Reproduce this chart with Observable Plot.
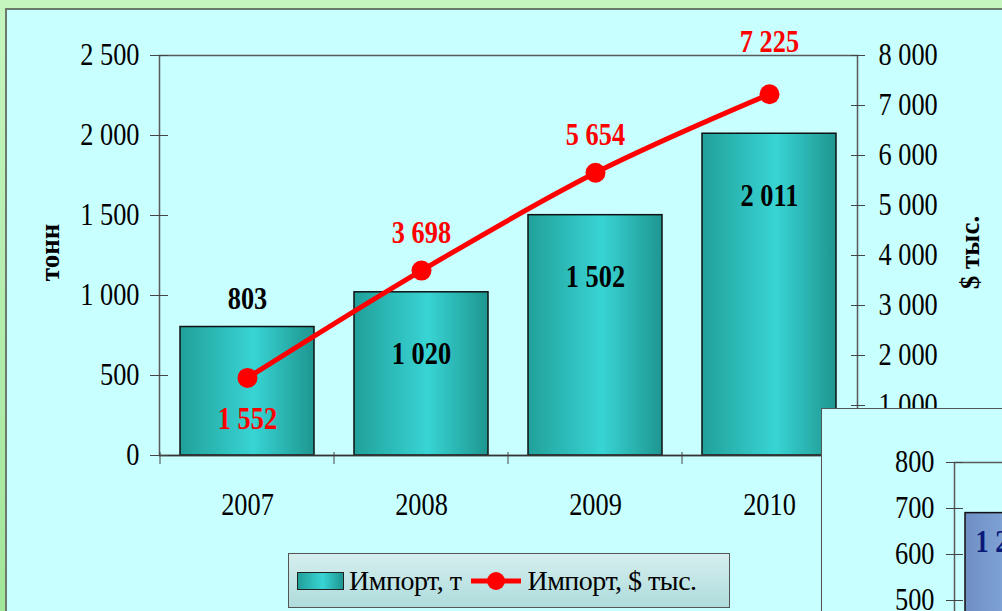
<!DOCTYPE html>
<html>
<head>
<meta charset="utf-8">
<script src="https://cdn.jsdelivr.net/npm/d3@7"></script>
<script src="https://cdn.jsdelivr.net/npm/@observablehq/plot@0.6"></script>
<style>
  html, body { margin:0; padding:0; }
  body { width:1002px; height:611px; overflow:hidden; position:relative;
         background: linear-gradient(to bottom, #c6f6c0, #a2e69a); font-family:"Liberation Serif", serif; }
  #panel { position:absolute; left:5px; top:8px; width:1100px; height:700px; background:#c8ffff;
           border-left:2px solid #6b7a6b; border-top:2px solid #6b7a6b; box-sizing:border-box; }
  #main { position:absolute; left:0; top:0; }
  .ytitle { position:absolute; font-weight:bold; font-size:27px; white-space:nowrap; transform-origin:center; }
  #legend { position:absolute; left:288px; top:553px; width:442px; height:55px; box-sizing:border-box;
            border:1.5px solid #555; background: linear-gradient(to bottom, #d6eeee, #aedcdc);
            display:flex; align-items:center; font-size:28px; color:#000; padding-left:8px; letter-spacing:-0.5px; }
  #legend .sw { width:45px; height:16px; border:1.5px solid #222; margin-right:5px;
                background: linear-gradient(to right, #22a09a, #38d4d4 55%, #1e9690); }
  #mini { position:absolute; left:821px; top:408px; width:400px; height:500px; background:#c8ffff;
          border-left:1.5px solid #555; border-top:1.5px solid #555; }
  #mini svg { position:absolute; left:0; top:0; }
</style>
</head>
<body>
<div id="panel"></div>
<div id="main"></div>
<div class="ytitle" id="tl">тонн</div>
<div class="ytitle" id="tr">$ тыс.</div>
<div id="legend">
  <div class="sw"></div><span>Импорт, т</span>
  <svg width="54" height="24" style="margin:0 4px 0 8px"><line x1="2" y1="12" x2="52" y2="12" stroke="#ff0000" stroke-width="5"/><circle cx="27" cy="12" r="9" fill="#ff0000"/></svg>
  <span>Импорт, $ тыс.</span>
</div>
<div id="mini"></div>
<script>
// ---- data ----
const years = ["2007", "2008", "2009", "2010"];
const importTonnes = [803, 1020, 1502, 2011];
const importUsdK = [1552, 3698, 5654, 7225];
const tonneTicks = [0, 500, 1000, 1500, 2000, 2500];
const usdTicks = [0, 1000, 2000, 3000, 4000, 5000, 6000, 7000, 8000];
// second (partially visible) chart
const miniCats = ["2007"];
const miniValues = [690];
const miniLabels = ["1 2"];
const miniTicks = [0, 100, 200, 300, 400, 500, 600, 700, 800];

const fmt = d => d3.format(",")(d).replace(/,/g, "\u00a0");
const tMax = 2500, uMax = 8000, k = tMax / uMax;
const toT = v => v * k;
const idx = years.map((_, i) => i);
const FS = 31;
const last = years.length - 1;

const defs = () => {
  const g = d3.create("svg:defs");
  const lg = g.append("linearGradient").attr("id", "barGrad").attr("x1", 0).attr("x2", 1).attr("y1", 0).attr("y2", 0);
  lg.append("stop").attr("offset", "0%").attr("stop-color", "#21a09a");
  lg.append("stop").attr("offset", "55%").attr("stop-color", "#38d4d4");
  lg.append("stop").attr("offset", "100%").attr("stop-color", "#1e9690");
  const lb = g.append("linearGradient").attr("id", "miniGrad").attr("x1", 0).attr("x2", 1).attr("y1", 0).attr("y2", 0);
  lb.append("stop").attr("offset", "0%").attr("stop-color", "#6f8fc4");
  lb.append("stop").attr("offset", "100%").attr("stop-color", "#a4d2ff");
  return g.node();
};

const lineAbove = i => toT(importUsdK[i]) > importTonnes[i];

const chart = Plot.plot({
  width: 1002, height: 611,
  marginLeft: 159, marginRight: 145, marginTop: 55, marginBottom: 156,
  style: { fontFamily: "Liberation Serif", fontSize: FS + "px", background: "transparent", color: "#000", overflow: "visible" },
  x: { domain: years, paddingInner: 0.23, paddingOuter: 0.115, axis: null },
  y: { domain: [0, tMax], axis: null },
  marks: [
    defs,
    Plot.barY(idx, { x: i => years[i], y: i => importTonnes[i], fill: "url(#barGrad)", stroke: "#111", strokeWidth: 1.5 }),
    Plot.frame({ stroke: "#5a5a5a", strokeWidth: 1.5 }),
    Plot.ruleY([0], { stroke: "#333", strokeWidth: 1.5 }),
    Plot.axisY({ anchor: "left", ticks: tonneTicks, tickSize: 9, tickPadding: 11, tickFormat: fmt, label: null, stroke: "#444" }),
    Plot.axisY({ anchor: "left", ticks: tonneTicks, tickSize: 9, dx: 9, tickFormat: () => "", label: null, stroke: "#444" }),
    Plot.axisY({ anchor: "right", ticks: usdTicks.map(toT), tickSize: 7, tickPadding: 14, tickFormat: d => fmt(Math.round(d / k)), label: null, stroke: "#444" }),
    Plot.axisY({ anchor: "right", ticks: usdTicks.map(toT), tickSize: 7, dx: -7, tickFormat: () => "", label: null, stroke: "#444" }),
    Plot.axisX({ anchor: "bottom", tickSize: 12, dx: -87.5, dy: -3, tickFormat: () => "", label: null, stroke: "#444" }),
    Plot.axisX({ anchor: "bottom", tickSize: 0, tickPadding: 37, label: null }),
    // bar value labels
    Plot.text(idx, { filter: i => !lineAbove(i), x: i => years[i], y: i => importTonnes[i], text: i => fmt(importTonnes[i]), dy: -28, fontWeight: "bold", fontSize: FS, fill: "#000" }),
    Plot.text(idx, { filter: i => lineAbove(i), x: i => years[i], y: i => importTonnes[i], text: i => fmt(importTonnes[i]), dy: 62, fontWeight: "bold", fontSize: FS, fill: "#000" }),
    // red line
    Plot.line(idx, { x: i => years[i], y: i => toT(importUsdK[i]), stroke: "#ff0000", strokeWidth: 5, curve: "catmull-rom" }),
    Plot.dot(idx, { x: i => years[i], y: i => toT(importUsdK[i]), r: 10, fill: "#ff0000", stroke: "none" }),
    Plot.text(idx, { filter: i => lineAbove(i) && i !== last, x: i => years[i], y: i => toT(importUsdK[i]), text: i => fmt(importUsdK[i]), dy: -38, fontWeight: "bold", fontSize: FS, fill: "#ff0000" }),
    Plot.text(idx, { filter: i => i === last, x: i => years[i], y: i => toT(importUsdK[i]), text: i => fmt(importUsdK[i]), dy: -52, fontWeight: "bold", fontSize: FS, fill: "#ff0000" }),
    Plot.text(idx, { filter: i => !lineAbove(i), x: i => years[i], y: i => toT(importUsdK[i]), text: i => fmt(importUsdK[i]), dy: 41, fontWeight: "bold", fontSize: FS, fill: "#ff0000" })
  ]
});
document.getElementById("main").appendChild(chart);

const mini = Plot.plot({
  width: 400, height: 460,
  marginLeft: 132, marginRight: 122, marginTop: 53, marginBottom: 39,
  style: { fontFamily: "Liberation Serif", fontSize: FS + "px", background: "transparent", color: "#000", overflow: "visible" },
  x: { domain: miniCats, padding: 0, axis: null },
  y: { domain: [0, 800], axis: null },
  marks: [
    defs,
    Plot.barY(miniCats.map((_, i) => i), { x: i => miniCats[i], y: i => miniValues[i], insetLeft: 11, fill: "url(#miniGrad)", stroke: "#111", strokeWidth: 1.5 }),
    Plot.ruleY([800], { stroke: "#5a5a5a", strokeWidth: 1.5 }),
    Plot.ruleX([0], { x: () => miniCats[0], dx: -73, stroke: "#5a5a5a", strokeWidth: 1.5 }),
    Plot.axisY({ anchor: "left", ticks: miniTicks, tickSize: 8, tickPadding: 12, tickFormat: d => d, label: null, stroke: "#444" }),
    Plot.axisY({ anchor: "left", ticks: miniTicks, tickSize: 9, dx: 9, tickFormat: () => "", label: null, stroke: "#444" }),
    Plot.text(miniCats.map((_, i) => i), { x: i => miniCats[i], y: i => miniValues[i], text: i => miniLabels[i], textAnchor: "start", dx: -52, dy: 29, fontWeight: "bold", fontSize: FS, fill: "#0a1a7a" })
  ]
});
document.getElementById("mini").appendChild(mini);

// narrow the serif text horizontally like the reference (keeps each text's anchor)
function squeeze(svg, s) {
  svg.querySelectorAll("text").forEach(t => {
    if (!t.textContent) return;
    const n = t.getComputedTextLength();
    if (n > 0) {
      t.setAttribute("textLength", (n * s).toFixed(2));
      t.setAttribute("lengthAdjust", "spacingAndGlyphs");
    }
  });
}
squeeze(chart, 0.85);
squeeze(mini, 0.85);

// rotated axis titles
function placeTitle(id, cx, cy) {
  const el = document.getElementById(id);
  const w = el.offsetWidth, h = el.offsetHeight;
  el.style.left = (cx - w / 2) + "px";
  el.style.top = (cy - h / 2) + "px";
  el.style.transform = "rotate(-90deg)";
}
placeTitle("tl", 51, 252);
placeTitle("tr", 970, 252);
</script>
</body>
</html>
